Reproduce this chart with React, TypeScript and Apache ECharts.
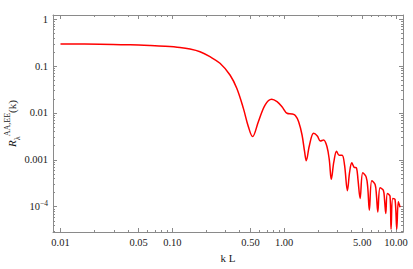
import React, { useEffect, useRef } from "react";
import * as echarts from "echarts";

// ---- data (k L, R) ----
const kValues = [
  0.01, 0.0225, 0.042, 0.063, 0.086, 0.117, 0.144, 0.177, 0.217, 0.267, 0.328,
  0.377, 0.432, 0.479, 0.522, 0.588, 0.675, 0.774, 0.864, 0.957, 1.062, 1.177,
  1.259, 1.348, 1.446, 1.524, 1.578, 1.679, 1.835, 1.98, 2.106, 2.254, 2.417,
  2.535, 2.641, 2.782, 2.945, 3.1, 3.3, 3.47, 3.68, 3.85, 4.03, 4.22, 4.44,
  4.58, 4.78, 5.05, 5.41, 5.6, 5.78, 6.08, 6.51, 6.69, 6.88, 7.21, 7.71, 7.91,
  8.11, 8.38, 8.85, 9.04, 9.36, 9.81, 10.17, 10.5, 10.88,
];
const rValues = [
  0.296, 0.294, 0.285, 0.275, 0.265, 0.25, 0.232, 0.203, 0.159, 0.115, 0.0646,
  0.0336, 0.01254, 0.00507, 0.00313, 0.00649, 0.01475, 0.01954, 0.0174, 0.0136,
  0.00986, 0.00952, 0.00885, 0.00652, 0.00339, 0.00149, 0.00096, 0.00198,
  0.00369, 0.00323, 0.00252, 0.00265, 0.00191, 0.000993, 0.000385, 0.0009,
  0.00152, 0.00126, 0.00126, 0.00077, 0.00022, 0.000546, 0.000863, 0.000698,
  0.000665, 0.000368, 0.00015, 0.000527, 0.000433, 0.000248, 0.000084,
  0.000356, 0.000298, 0.000176, 0.0000774, 0.000252, 0.000225, 0.000138,
  0.0000716, 0.000191, 0.000168, 0.000033, 0.00015, 0.000143, 0.000033,
  0.000127, 0.0000975,
];

// ---- ticks ----
const xMajorTicks = [0.01, 0.05, 0.1, 0.5, 1, 5, 10];
const xTickLabels = ["0.01", "0.05", "0.10", "0.50", "1.00", "5.00", "10.00"];
const xMinorTicks = [
  0.02, 0.03, 0.04, 0.06, 0.07, 0.08, 0.09, 0.2, 0.3, 0.4, 0.6, 0.7, 0.8, 0.9,
  2, 3, 4, 6, 7, 8, 9,
];
const yMajorTicks = [1, 0.1, 0.01, 0.001, 0.0001];
const yTickLabels = ["1", "0.1", "0.01", "0.001", "10{sup|−4}"];
const yMinorTicks = [
  0.00003, 0.00004, 0.00005, 0.00006, 0.00007, 0.00008, 0.00009,
  0.0002, 0.0003, 0.0004, 0.0005, 0.0006, 0.0007, 0.0008, 0.0009,
  0.002, 0.003, 0.004, 0.005, 0.006, 0.007, 0.008, 0.009,
  0.02, 0.03, 0.04, 0.05, 0.06, 0.07, 0.08, 0.09,
  0.2, 0.3, 0.4, 0.5, 0.6, 0.7, 0.8, 0.9,
];

const xRange = [0.00857, 11.56];
const yRange = [0.0000288, 1.236];

const L = (v: number) => Math.log10(v);
const FONT = "'Liberation Serif', 'Times New Roman', serif";
const FRAME = "#8a8a8a";
const TEXT = "#1a1a1a";

function labelFor(ticks: number[], labels: string[]) {
  return (v: number) => {
    const i = ticks.findIndex((t) => Math.abs(L(t) - v) < 1e-6);
    return i >= 0 ? labels[i] : "";
  };
}

function makeX(position: "bottom" | "top", ticks: number[], major: boolean, withLabels: boolean) {
  return {
    type: "value",
    position,
    min: L(xRange[0]),
    max: L(xRange[1]),
    axisLine: { show: major, onZero: false, lineStyle: { color: FRAME, width: 1 } },
    axisTick: {
      show: true,
      inside: true,
      length: major ? 4 : 2,
      customValues: ticks.map(L),
      lineStyle: { color: FRAME, width: 1 },
    },
    axisLabel: withLabels
      ? {
          show: true,
          customValues: ticks.map(L),
          formatter: labelFor(xMajorTicks, xTickLabels),
          fontFamily: FONT,
          fontSize: 10.5,
          color: TEXT,
          margin: 5,
        }
      : { show: false },
    splitLine: { show: false },
    ...(withLabels
      ? {
          name: "k L",
          nameLocation: "middle",
          nameGap: 20,
          nameMoveOverlap: false,
          nameTextStyle: { fontFamily: FONT, fontSize: 11, color: TEXT },
        }
      : {}),
  };
}

function makeY(position: "left" | "right", ticks: number[], major: boolean, withLabels: boolean) {
  return {
    type: "value",
    position,
    min: L(yRange[0]),
    max: L(yRange[1]),
    axisLine: { show: major, onZero: false, lineStyle: { color: FRAME, width: 1 } },
    axisTick: {
      show: true,
      inside: true,
      length: major ? 4 : 2,
      customValues: ticks.map(L),
      lineStyle: { color: FRAME, width: 1 },
    },
    axisLabel: withLabels
      ? {
          show: true,
          customValues: ticks.map(L),
          formatter: labelFor(yMajorTicks, yTickLabels),
          fontFamily: FONT,
          fontSize: 10.5,
          color: TEXT,
          margin: 5,
          lineHeight: 14,
          rich: {
            sup: { fontFamily: FONT, fontSize: 7.5, color: TEXT, verticalAlign: "top", lineHeight: 14 },
          },
        }
      : { show: false },
    splitLine: { show: false },
    ...(withLabels
      ? {
          name: "{r|R}{sub|λ}{sup|AA,EE}{n|(k)}",
          nameLocation: "middle",
          nameRotate: 90,
          nameGap: 32,
          nameMoveOverlap: false,
          nameTextStyle: {
            fontFamily: FONT,
            fontSize: 11,
            color: TEXT,
            rich: {
              r: { fontFamily: FONT, fontSize: 11, fontStyle: "italic", color: TEXT, lineHeight: 18, verticalAlign: "middle" },
              sub: { fontFamily: FONT, fontSize: 8, color: TEXT, lineHeight: 18, verticalAlign: "bottom" },
              sup: { fontFamily: FONT, fontSize: 8, color: TEXT, lineHeight: 18, verticalAlign: "top" },
              n: { fontFamily: FONT, fontSize: 11, color: TEXT, lineHeight: 18, verticalAlign: "middle" },
            },
          },
        }
      : {}),
  };
}

export default function App() {
  const ref = useRef<HTMLDivElement>(null);
  useEffect(() => {
    if (!ref.current) return;
    const chart = echarts.init(ref.current, undefined, { renderer: "svg" });
    chart.setOption({
      animation: false,
      backgroundColor: "#ffffff",
      grid: {
        left: 53,
        right: 10,
        top: 15,
        bottom: 37,
        containLabel: false,
        outerBoundsMode: "none",
      },
      xAxis: [
        makeX("bottom", xMajorTicks, true, true),
        makeX("bottom", xMinorTicks, false, false),
        makeX("top", xMajorTicks, true, false),
        makeX("top", xMinorTicks, false, false),
      ],
      yAxis: [
        makeY("left", yMajorTicks, true, true),
        makeY("left", yMinorTicks, false, false),
        makeY("right", yMajorTicks, true, false),
        makeY("right", yMinorTicks, false, false),
      ],
      series: [
        {
          type: "line",
          xAxisIndex: 0,
          yAxisIndex: 0,
          data: kValues.map((k, i) => [L(k), L(rValues[i])]),
          showSymbol: false,
          smooth: 0.35,
          clip: true,
          lineStyle: { color: "#ff0000", width: 1.5 },
        },
      ],
    });
    return () => chart.dispose();
  }, []);
  return (
    <div
      ref={ref}
      style={{ position: "fixed", left: 0, top: 0, width: 413, height: 269 }}
    />
  );
}
